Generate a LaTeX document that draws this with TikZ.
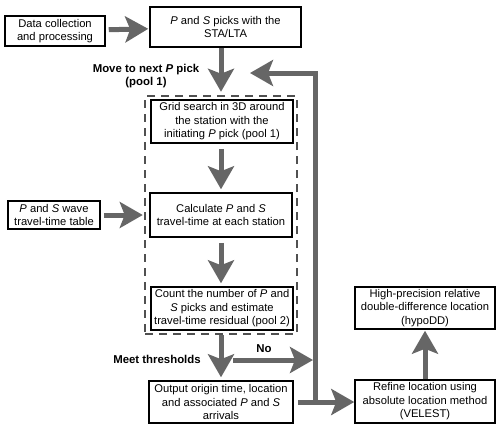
\documentclass[tikz,border=0pt]{standalone}
\usepackage{fontspec}
\setmainfont{Liberation Sans}
\usetikzlibrary{arrows.meta}

\definecolor{arrowgray}{HTML}{666666}
\definecolor{dashgray}{HTML}{505050}

\begin{document}
\begin{tikzpicture}[x=1pt,y=-1pt,
  box/.style={draw=black,line width=1.5pt,align=center,inner sep=1pt,
    font=\fontsize{11.2}{13.5}\selectfont},
  poolbox/.style={draw=dashgray,line width=2.5pt,dash pattern=on 8pt off 6pt,
    minimum width=152pt,minimum height=238pt,inner sep=0pt},
  flow/.style={-{Stealth[length=23pt,width=26pt,inset=5pt]},line width=5pt,draw=arrowgray},
  lbl/.style={align=center,font=\bfseries\fontsize{11.4}{13}\selectfont}]
\useasboundingbox (0,0) rectangle (497,424);

\node[box,minimum width=100pt,minimum height=30pt] (data) at (55,31)
  {Data collection\\and processing};
\node[box,minimum width=151pt,minimum height=40pt] (picks) at (225.5,27)
  {\textit{P} and \textit{S} picks with the\\STA/LTA};
\node[poolbox] (pool) at (221,215) {};
\node[box,minimum width=142pt,minimum height=43pt] (grid) at (222,121.5)
  {Grid search in 3D around\\the station with the\\initiating \textit{P} pick (pool 1)};
\node[box,minimum width=142pt,minimum height=44pt] (calc) at (221,215)
  {Calculate \textit{P} and \textit{S}\\travel-time at each station};
\node[box,minimum width=142pt,minimum height=43pt] (count) at (222,308.5)
  {Count the number of \textit{P} and\\\textit{S} picks and estimate\\travel-time residual (pool 2)};
\node[box,minimum width=144pt,minimum height=42pt] (output) at (221,402)
  {Output origin time, location\\and associated \textit{P} and \textit{S}\\arrivals};
\node[box,minimum width=92pt,minimum height=28pt] (table) at (54,215)
  {\textit{P} and \textit{S} wave\\travel-time table};
\node[box,minimum width=140pt,minimum height=43pt] (refine) at (425,401.5)
  {Refine location using\\absolute location method\\(VELEST)};
\node[box,minimum width=140pt,minimum height=42pt] (hypo) at (425,308)
  {High-precision relative\\double-difference location\\(hypoDD)};

\node[lbl] (move) at (146,76.5) {Move to next \textit{P} pick\\(pool 1)};
\node[lbl] (meet) at (157,359) {Meet thresholds};
\node[lbl] (no) at (264,349) {No};

\coordinate (junc) at (315,402);
\coordinate (turn) at (315,73);
\coordinate (back) at (250,73);
\coordinate (nostart) at (233,360);
\coordinate (noend) at (313,360);

\draw[flow,shorten <=3pt,shorten >=1pt] (data) -- (picks);
\draw[flow,shorten >=3pt] (picks.south -| pool.north) -- (pool.north);
\draw[flow,shorten <=5pt,shorten >=3pt] (grid.south -| pool.north) -- (calc.north);
\draw[flow,shorten <=5pt,shorten >=3pt] (calc.south) -- (count.north -| calc.south);
\draw[flow,shorten >=3pt] (pool.south) -- (output.north -| pool.south);
\draw[flow,shorten <=3pt,shorten >=1pt] (table) -- (pool.west |- table);
\draw[flow] (nostart) -- (noend);
\draw[flow,shorten <=4pt,shorten >=0pt] (output.east |- junc) -- (refine.west |- junc);
\draw[flow,shorten <=0pt,shorten >=1pt] (refine) -- (hypo);
\draw[flow] (junc) -- (turn) -- (back);
\end{tikzpicture}
\end{document}
